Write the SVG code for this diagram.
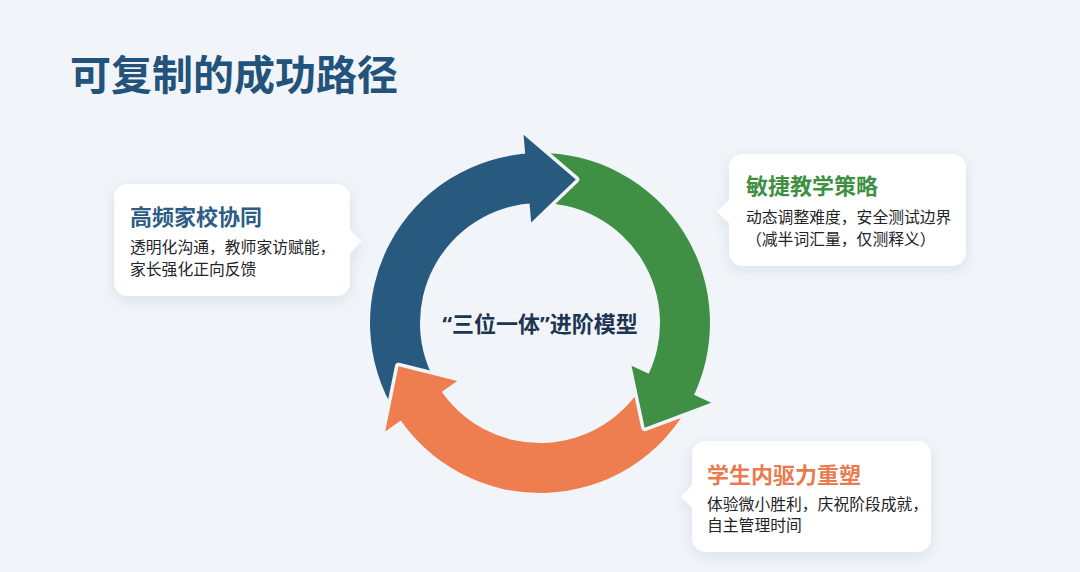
<svg xmlns="http://www.w3.org/2000/svg" width="1080" height="572" viewBox="0 0 1080 572">
  <defs>
    <filter id="shadow" x="-20%" y="-30%" width="140%" height="160%">
      <feDropShadow dx="0" dy="4" stdDeviation="7" flood-color="#1e3a5f" flood-opacity="0.10"/>
    </filter>
  </defs>
  <style>
    .cjk { font-family: "Noto Sans CJK SC", "Noto Sans", sans-serif; }
    .latin { font-family: "Noto Sans", "Liberation Sans", sans-serif; }
    .title { font-size: 41px; font-weight: 700; fill: #23527a; }
    .card { fill: #ffffff; }
    .ctitle { font-size: 22px; font-weight: 700; }
    .body { font-size: 15.8px; fill: #222428; }
    .gap { fill: none; stroke: #f1f5f9; stroke-width: 7; stroke-linejoin: round; }
    .blue { fill: #285a80; }
    .green { fill: #3f9044; }
    .orange { fill: #ee7d50; }
    .center { font-size: 22px; font-weight: 700; fill: #1d3553; }
  </style>
  <rect width="1080" height="572" fill="#f1f5f9"/>
  <text class="cjk title" x="70" y="90">可复制的成功路径</text>

  <g id="connectors">
    <path class="orange" d="M690.10,402.81 A170,170 0 0 1 395.83,413.09 L438.23,386.59 A120,120 0 0 0 645.95,379.34 Z"/>
    <path class="blue" d="M395.83,413.09 A170,170 0 0 1 534.07,153.10 L535.81,203.07 A120,120 0 0 0 438.23,386.59 Z"/>
    <path class="green" d="M534.07,153.10 A170,170 0 0 1 690.10,402.81 L645.95,379.34 A120,120 0 0 0 535.81,203.07 Z"/>
    <polyline class="gap" points="385.18,431.41 398.47,366.27 457.27,380.93"/>
    <polygon class="orange" points="385.18,431.41 398.47,366.27 457.27,380.93"/>
    <polyline class="gap" points="523.53,134.72 575.80,179.40 531.20,222.38"/>
    <polygon class="blue" points="523.53,134.72 575.80,179.40 531.20,222.38"/>
    <polyline class="gap" points="711.29,402.87 644.65,427.65 631.54,365.68"/>
    <polygon class="green" points="711.29,402.87 644.65,427.65 631.54,365.68"/>
  </g>

  <g id="center-label">
    <text class="cjk center" x="540" y="331.5" text-anchor="middle"><tspan class="latin">“</tspan>三位一体<tspan class="latin">”</tspan>进阶模型</text>
  </g>

  <g id="card-home-school">
    <g filter="url(#shadow)">
      <rect class="card" x="114" y="184" width="236" height="112" rx="14"/>
      <polygon class="card" points="348,228 361.5,241.5 348,255"/>
    </g>
    <text class="cjk ctitle" x="130" y="225" fill="#2b5d86">高频家校协同</text>
    <text class="cjk body" x="130" y="253">透明化沟通，教师家访赋能，</text>
    <text class="cjk body" x="130" y="275">家长强化正向反馈</text>
  </g>

  <g id="card-agile-teaching">
    <g filter="url(#shadow)">
      <rect class="card" x="729" y="154" width="237" height="112" rx="14"/>
      <polygon class="card" points="731,198 717,211.5 731,225"/>
    </g>
    <text class="cjk ctitle" x="746" y="194" fill="#3f9044">敏捷教学策略</text>
    <text class="cjk body" x="746" y="223">动态调整难度，安全测试边界</text>
    <text class="cjk body" x="746" y="245">（减半词汇量，仅测释义）</text>
  </g>

  <g id="card-student-drive">
    <g filter="url(#shadow)">
      <rect class="card" x="692" y="441" width="239" height="111" rx="14"/>
      <polygon class="card" points="694,483 681,496.5 694,510"/>
    </g>
    <text class="cjk ctitle" x="707" y="482.5" fill="#ea7a4f">学生内驱力重塑</text>
    <text class="cjk body" x="707" y="509.5">体验微小胜利，庆祝阶段成就，</text>
    <text class="cjk body" x="707" y="531">自主管理时间</text>
  </g>
</svg>
